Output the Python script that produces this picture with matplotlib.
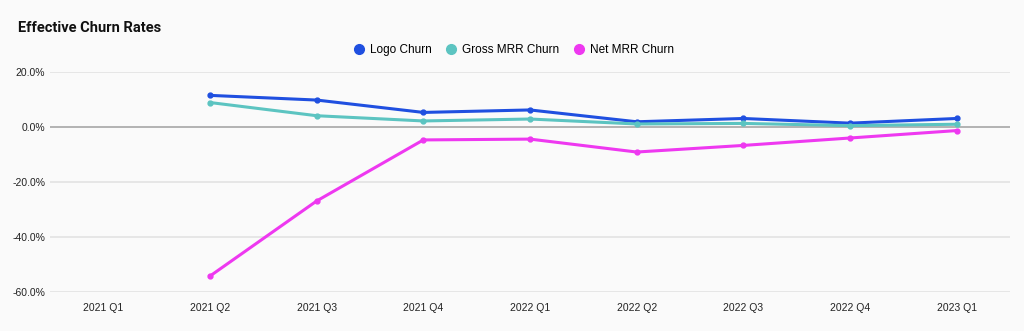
import numpy as np
import matplotlib.pyplot as plt
from matplotlib.ticker import FuncFormatter

plt.rcParams['font.family'] = ['Liberation Sans', 'DejaVu Sans']

quarters = ['2021 Q1', '2021 Q2', '2021 Q3', '2021 Q4', '2022 Q1',
            '2022 Q2', '2022 Q3', '2022 Q4', '2023 Q1']
logo_churn = [np.nan, 11.5, 9.8, 5.3, 6.2, 1.9, 3.1, 1.4, 3.1]
gross_mrr_churn = [np.nan, 8.9, 4.1, 2.2, 2.9, 1.1, 1.3, 0.5, 1.0]
net_mrr_churn = [np.nan, -54.2, -26.9, -4.7, -4.4, -9.1, -6.7, -4.0, -1.3]
y_ticks = [20, 0, -20, -40, -60]

BG = '#fafafa'
series = [
    ('Logo Churn', logo_churn, '#1f4fe0'),
    ('Gross MRR Churn', gross_mrr_churn, '#5cc4c1'),
    ('Net MRR Churn', net_mrr_churn, '#ee38f0'),
]

fig = plt.figure(figsize=(10.24, 3.31), dpi=100, facecolor=BG)
ax = fig.add_axes([50 / 1024, 39 / 331, 960 / 1024, 220 / 331], facecolor=BG)

x = np.arange(len(quarters))
for label, vals, color in series:
    ax.plot(x, vals, color=color, linewidth=2.2, marker='o', markersize=3.5,
            label=label, zorder=3)

ax.set_xlim(-0.5, len(quarters) - 0.5)
ax.set_ylim(-60, 20)
ax.set_yticks(y_ticks)
ax.yaxis.set_major_formatter(FuncFormatter(lambda v, _: f'{v:.1f}%'))
ax.set_xticks(x)
ax.set_xticklabels(quarters)

for t in y_ticks:
    if t == 0:
        ax.axhline(t, color='#a6a6a6', linewidth=1.2, zorder=2)
    else:
        ax.axhline(t, color='#e3e3e3', linewidth=1.2, zorder=1)

for s in ax.spines.values():
    s.set_visible(False)
ax.tick_params(axis='both', length=0, labelsize=7.5, colors='#222222')
ax.tick_params(axis='y', pad=3.5)
ax.tick_params(axis='x', pad=8)

fig.text(18 / 1024, 1 - 28 / 331, 'Effective Churn Rates', fontsize=10.5,
         fontweight='bold', va='center', ha='left', color='#111111',
         family=['Roboto', 'DejaVu Sans'])

leg = fig.legend(loc='center', bbox_to_anchor=(514 / 1024, 1 - 50 / 331), ncol=3,
                 frameon=False, fontsize=8.5, handlelength=0.8, handletextpad=0.5,
                 columnspacing=1.3, markerscale=1.0)
for h, (_, _, color) in zip(leg.legend_handles, series):
    h.set_linestyle('none')
    h.set_marker('o')
    h.set_markersize(7)
    h.set_color(color)

fig.savefig('out.png', dpi=100, facecolor=BG)
